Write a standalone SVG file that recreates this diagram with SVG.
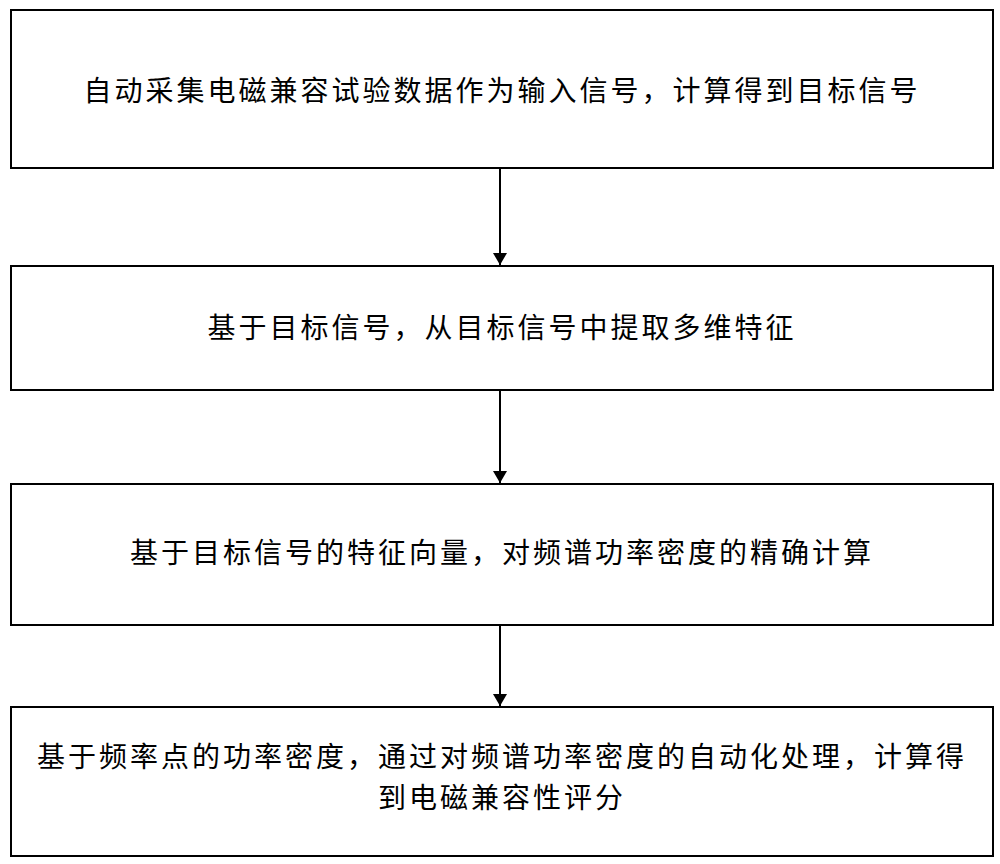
<svg xmlns="http://www.w3.org/2000/svg" width="1000" height="864" viewBox="0 0 1000 864">
<style>
.box{fill:#fff;stroke:#000;stroke-width:2}
.t{font-family:"Noto Sans CJK SC","Noto Sans CJK JP",sans-serif;font-size:28px;letter-spacing:3px;fill:#000;text-anchor:middle}
.c{stroke:#000;stroke-width:2;fill:none}
</style>
<defs><marker id="a" markerWidth="12" markerHeight="14" refX="12" refY="7" orient="auto" markerUnits="userSpaceOnUse"><path d="M0,0 L12,7 L0,14 Z" fill="#000"/></marker></defs>
<rect width="1000" height="864" fill="#fff"/>
<g id="n1"><rect class="box" x="11" y="10" width="982" height="158"/><text class="t" x="502" y="101">自动采集电磁兼容试验数据作为输入信号，计算得到目标信号</text></g>
<g id="n2"><rect class="box" x="11" y="266" width="982" height="124"/><text class="t" x="502" y="338">基于目标信号，从目标信号中提取多维特征</text></g>
<g id="n3"><rect class="box" x="11" y="484" width="982" height="141"/><text class="t" x="502" y="563">基于目标信号的特征向量，对频谱功率密度的精确计算</text></g>
<g id="n4"><rect class="box" x="11" y="707" width="982" height="149"/><text class="t" x="502" y="767">基于频率点的功率密度，通过对频谱功率密度的自动化处理，计算得</text><text class="t" x="502" y="808">到电磁兼容性评分</text></g>
<g id="connectors">
<line class="c" x1="500" y1="168" x2="500" y2="265" marker-end="url(#a)"/>
<line class="c" x1="500" y1="390" x2="500" y2="483" marker-end="url(#a)"/>
<line class="c" x1="500" y1="625" x2="500" y2="706" marker-end="url(#a)"/>
</g>
</svg>
